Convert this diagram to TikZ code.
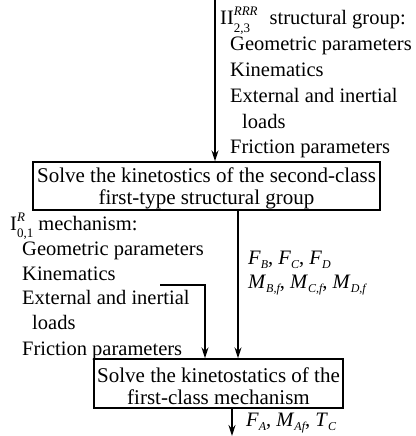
\documentclass[tikz,border=0pt]{standalone}
\usepackage{fontspec}
\setmainfont{Liberation Serif}
\usetikzlibrary{arrows.meta}
\newsavebox\mysupbox
\newsavebox\mysubbox
\newcommand{\subsup}[3]{#1\sbox\mysupbox{\raisebox{9pt}{\fontsize{13}{13}\selectfont #3}}%
  \sbox\mysubbox{\raisebox{-7.5pt}{\fontsize{13}{13}\selectfont #2}}%
  \ifdim\wd\mysupbox>\wd\mysubbox \rlap{\usebox\mysubbox}\usebox\mysupbox\else\rlap{\usebox\mysupbox}\usebox\mysubbox\fi}
\newcommand{\qv}[2]{\textit{#1}\raisebox{-4pt}{\fontsize{12}{12}\selectfont\itshape #2}}
\begin{document}
\begin{tikzpicture}[x=1pt,y=-1pt,
  txt/.style={anchor=base west,inner sep=0pt,font=\fontsize{20.5}{25.6}\selectfont},
  boxnode/.style={draw,line width=1.4pt,inner sep=0pt,align=center,font=\fontsize{21}{22}\selectfont},
  conn/.style={line width=1.4pt},
  arr/.style={conn,-{Stealth[length=11pt,width=7pt]}}]
\useasboundingbox (0,0) rectangle (415,436);
% top text block
\node[txt] (t1) at (220,25) {\subsup{II}{2,3}{\itshape RRR}\hspace{12pt}structural group:};
\node[txt] (t2) at (230,51) {Geometric parameters};
\node[txt] (t3) at (230,77) {Kinematics};
\node[txt] (t4) at (230,102) {External and inertial};
\node[txt] (t5) at (242,128) {loads};
\node[txt] (t6) at (230,153) {Friction parameters};
% boxes
\node[boxnode,minimum width=347pt,minimum height=48pt] (b1) at (206.5,186) {\rule{0pt}{20pt}Solve the kinetostics of the second-class\\first-type structural group};
\node[boxnode,minimum width=249pt,minimum height=49pt] (b2) at (218.5,383.5) {\rule{0pt}{20pt}Solve the kinetostatics of the\\first-class mechanism};
% left block
\node[txt] (l1) at (10,230) {\subsup{I}{0,1}{\itshape R} mechanism:};
\node[txt] (l2) at (22,255) {Geometric parameters};
\node[txt] (l3) at (22,280) {Kinematics};
\node[txt] (l4) at (22,304) {External and inertial};
\node[txt] (l5) at (32,329) {loads};
\node[txt] (l6) at (22,355) {Friction parameters};
% right labels
\node[txt] (r1) at (248,264) {\qv{F}{B}, \qv{F}{C}, \qv{F}{D}};
\node[txt] (r2) at (248,288) {\qv{M}{B,f}, \qv{M}{C,f}, \qv{M}{D,f}};
\node[txt] (r3) at (246,426) {\qv{F}{A}, \qv{M}{Af}, \qv{T}{C}};
% connectors
\coordinate (top) at (215,0);
\coordinate (side) at (160,285);
\coordinate (bot) at (232,436);
\draw[arr] (top) -- (top |- b1.north);
\draw[arr] (238,0 |- b1.south) -- (238,0 |- b2.north);
\draw[arr] (side) -| (205,0 |- b2.north);
\draw[arr] (bot |- b2.south) -- (bot);
\end{tikzpicture}
\end{document}
